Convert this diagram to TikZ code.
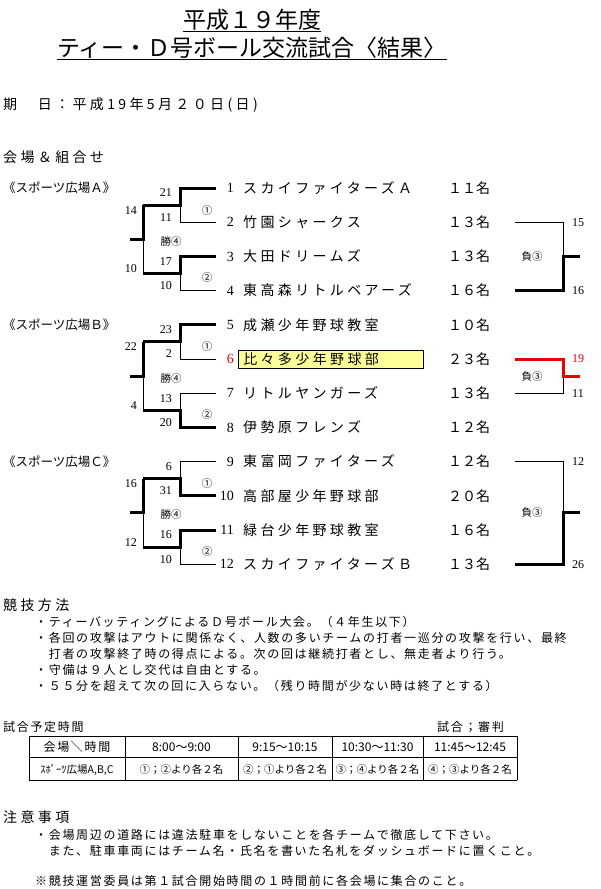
\documentclass[tikz,border=0pt]{standalone}
\usepackage{fontspec}
\setmainfont[LetterSpace=24]{Noto Sans CJK JP}
\newfontfamily\plainjp{Noto Sans CJK JP}
\newfontfamily\smalljp[LetterSpace=14]{Noto Sans CJK JP}
\newfontfamily\numfont{Liberation Serif}
\newcommand{\fsz}[1]{\fontsize{#1}{#1}\selectfont}
\definecolor{hlyellow}{RGB}{255,255,153}
\definecolor{redline}{RGB}{235,0,0}

\begin{document}
\begin{tikzpicture}[x=1pt,y=-1pt,
  every node/.style={inner sep=0pt},
  base/.style={line width=0.8pt},
  win/.style={line width=3pt},
  plainrow/.style={},
  teamname/.style={font=\fsz{14}, text height=12.3pt, text depth=1.7pt, anchor=west},
  teamno/.style={font=\numfont\fsz{14}, text height=9.2pt, text depth=0pt, anchor=east},
  score/.style={font=\numfont\fsz{12}, text height=7.9pt, text depth=0pt},
  roundmark/.style={font=\plainjp\fsz{10.5}, text height=9.2pt, text depth=1.3pt},
  body/.style={font=\smalljp\fsz{12}, text height=10.6pt, text depth=1.4pt, anchor=west},
  head/.style={font=\fsz{14}, text height=12.3pt, text depth=1.7pt, anchor=west},
  cell/.style={font=\smalljp\fsz{12}, text height=10.6pt, text depth=1.4pt},
  hl/.style={draw, line width=0.8pt, fill=hlyellow, inner xsep=5pt, inner ysep=2pt,
    text width=175pt, align=left, xshift=-5pt}]
\useasboundingbox (0,0) rectangle (600,889);

% title
\node[font=\plainjp\fsz{23}, text height=20pt, text depth=3pt] (title1) at (252,20) {平成１９年度};
\node[font=\plainjp\fsz{23}, text height=20pt, text depth=3pt] (title2) at (252,48) {ティー・Ｄ号ボール交流試合〈結果〉};
\draw[base] (title1.south west) -- (title1.south east);
\draw[base] (title2.south west) -- (title2.south east);

\node[head] (date) at (3,104) {期　日：平成19年5月２０日(日)};
\node[head] (venues) at (3,157) {会場＆組合せ};

% teams
\foreach \i/\tn/\cnt/\nc/\st in {1/スカイファイターズＡ/１１名/black/plainrow,
  2/竹園シャークス/１３名/black/plainrow, 3/大田ドリームズ/１３名/black/plainrow,
  4/東高森リトルベアーズ/１６名/black/plainrow, 5/成瀬少年野球教室/１０名/black/plainrow,
  6/比々多少年野球部/２３名/redline/hl, 7/リトルヤンガーズ/１３名/black/plainrow,
  8/伊勢原フレンズ/１２名/black/plainrow, 9/東富岡ファイターズ/１２名/black/plainrow,
  10/高部屋少年野球部/２０名/black/plainrow, 11/緑台少年野球教室/１６名/black/plainrow,
  12/スカイファイターズＢ/１３名/black/plainrow} {
  \pgfmathsetmacro\y{188+(\i-1)*34.2}
  \node[teamno, text=\nc] (n\i) at (234,\y) {\i};
  \node[teamname, \st] (t\i) at (243,\y) {\tn};
  \node[teamname, font=\plainjp\fsz{14}] (c\i) at (448,\y) {\cnt};
  \coordinate (e\i) at (216,\y);
  \coordinate (k\i) at (180,\y);
}
\foreach \b/\v in {1/Ａ,2/Ｂ,3/Ｃ} {
  \pgfmathsetmacro\y{188+(\b-1)*4*34.2}
  \node[body, font=\plainjp\fsz{12.5}] (venue\b) at (3,\y) {《スポーツ広場\v》};
}

% bracket points
\foreach \p in {1,...,6} {
  \pgfmathsetmacro\y{188+(2*\p-1.5)*34.2}
  \coordinate (m\p) at (180,\y);
  \coordinate (g\p) at (143,\y);
}
\foreach \b in {1,2,3} {
  \pgfmathsetmacro\y{188+(4*\b-2.5)*34.2}
  \coordinate (h\b) at (143,\y);
  \coordinate (o\b) at (130,\y);
}

% thin lines
\foreach \p in {1,...,6} {
  \pgfmathtruncatemacro\pa{2*\p-1}
  \pgfmathtruncatemacro\pb{2*\p}
  \draw[base] (e\pa) -- (k\pa) -- (k\pb) -- (e\pb);
  \draw[base] (m\p) -- (g\p);
}
\foreach \b in {1,2,3} {
  \pgfmathtruncatemacro\pa{2*\b-1}
  \pgfmathtruncatemacro\pb{2*\b}
  \draw[base] (g\pa) -- (g\pb);
}
% winners
\foreach \w/\p in {1/1,3/2,5/3,8/4,10/5,11/6}
  \draw[win] (e\w) -- (k\w) -- (m\p) -- (g\p);
\foreach \b/\p in {1/1,2/3,3/5}
  \draw[win] (g\p) -- (h\b) -- (o\b);

% scores
\foreach \i/\s in {1/21,3/17,5/23,7/13,9/6,11/16}
  \node[score, anchor=east] (s\i) at ([xshift=-8pt,yshift=-5pt]k\i) {\s};
\foreach \i/\s in {2/11,4/10,6/2,8/20,10/31,12/10}
  \node[score, anchor=east] (s\i) at ([xshift=-8pt,yshift=5pt]k\i) {\s};
\foreach \p/\s in {1/14,3/22,5/16}
  \node[score, anchor=east] (q\p) at ([xshift=-6pt,yshift=-5pt]g\p) {\s};
\foreach \p/\s in {2/10,4/4,6/12}
  \node[score, anchor=east] (q\p) at ([xshift=-6pt,yshift=5pt]g\p) {\s};
\foreach \p in {1,3,5}
  \node[roundmark] (r\p) at ([xshift=27pt,yshift=-5pt]m\p) {①};
\foreach \p in {2,4,6}
  \node[roundmark] (r\p) at ([xshift=27pt,yshift=-4pt]m\p) {②};
\foreach \b in {1,2,3}
  \node[roundmark] (w\b) at ([xshift=28pt,yshift=-2pt]h\b) {勝④};

% losers' games
\foreach \j/\u/\d/\su/\sd/\cl in {1/2/4/15/16/black,2/6/7/19/11/redline,3/9/12/12/26/black} {
  \pgfmathsetmacro\yu{188+(\u-1)*34.2}
  \pgfmathsetmacro\yd{188+(\d-1)*34.2}
  \pgfmathsetmacro\ym{(\yu+\yd)/2}
  \coordinate (ra\j) at (515,\yu);
  \coordinate (rb\j) at (563,\yu);
  \coordinate (rc\j) at (563,\yd);
  \coordinate (rd\j) at (515,\yd);
  \coordinate (rm\j) at (563,\ym);
  \coordinate (ro\j) at (580,\ym);
  \draw[base] (ra\j) -- (rb\j) -- (rc\j) -- (rd\j);
  \node[score, anchor=west, text=\cl] (ru\j) at ([xshift=9pt]rb\j) {\su};
  \node[score, anchor=west] (rv\j) at ([xshift=9pt]rc\j) {\sd};
  \node[roundmark] (lose\j) at ([xshift=-31pt]rm\j) {負③};
}
\draw[win] (rd1) -- (rc1) -- (rm1) -- (ro1);
\draw[win, redline] (ra2) -- (rb2) -- (rm2) -- (ro2);
\draw[win] (rd3) -- (rc3) -- (rm3) -- (ro3);

% rules
\node[head] (method) at (3,605) {競技方法};
\node[body] (rule1) at (35,622) {・ティーバッティングによるＤ号ボール大会。（４年生以下）};
\node[body] (rule2) at (35,638) {・各回の攻撃はアウトに関係なく、人数の多いチームの打者一巡分の攻撃を行い、最終};
\node[body] (rule3) at (35,654) {　打者の攻撃終了時の得点による。次の回は継続打者とし、無走者より行う。};
\node[body] (rule4) at (35,670) {・守備は９人とし交代は自由とする。};
\node[body] (rule5) at (35,686) {・５５分を超えて次の回に入らない。（残り時間が少ない時は終了とする）};

% timetable
\node[body] (plan) at (3,727) {試合予定時間};
\node[body] (judge) at (437,727) {試合；審判};
\foreach \x in {29,125,238,332,423,517}
  \draw[base] (\x,736) -- (\x,780);
\foreach \y in {736,757,780}
  \draw[base] (29,\y) -- (517,\y);
\node[cell] (hd1) at (77,746.5) {会場＼時間};
\foreach \x/\t [count=\k from 2] in {181.5/8:00～9:00,285/9:15～10:15,377.5/10:30～11:30,470/11:45～12:45}
  \node[cell, font=\plainjp\fsz{12}] (hd\k) at (\x,746.5) {\t};
\node[cell, font=\plainjp\fsz{10.5}] (rw1) at (77,768.5) {ｽﾎﾟｰﾂ広場A,B,C};
\foreach \x/\t [count=\k from 2] in {181.5/①；②より各２名,285/②；①より各２名,377.5/③；④より各２名,470/④；③より各２名}
  \node[cell, font=\plainjp\fsz{10.5}] (rw\k) at (\x,768.5) {\t};

% notes
\node[head] (notes) at (3,817) {注意事項};
\node[body] (note1) at (35,835) {・会場周辺の道路には違法駐車をしないことを各チームで徹底して下さい。};
\node[body] (note2) at (35,851) {　また、駐車車両にはチーム名・氏名を書いた名札をダッシュボードに置くこと。};
\node[body] (note3) at (35,881) {※競技運営委員は第１試合開始時間の１時間前に各会場に集合のこと。};
\end{tikzpicture}
\end{document}
